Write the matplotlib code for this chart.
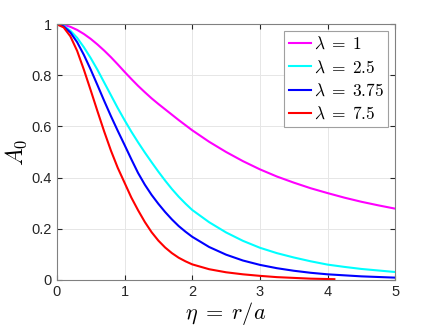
import matplotlib
matplotlib.use("Agg")
import matplotlib.pyplot as plt

plt.rcParams['font.family'] = ['Liberation Sans', 'DejaVu Sans']
plt.rcParams['mathtext.fontset'] = 'cm'

# Data
x_mag = [0, 0.1, 0.2, 0.3, 0.4, 0.5, 0.6, 0.7, 0.8, 0.9, 1.0, 1.1, 1.2, 1.3, 1.4, 1.5, 1.6, 1.8, 2.0, 2.25, 2.5, 2.75, 3.0, 3.25, 3.5, 3.75, 4.0, 4.25, 4.5, 4.75, 5.0]
y_mag = [1.0, 0.998, 0.99, 0.978, 0.962, 0.943, 0.921, 0.897, 0.871, 0.843, 0.814, 0.786, 0.759, 0.734, 0.71, 0.688, 0.667, 0.625, 0.585, 0.54, 0.50, 0.464, 0.432, 0.404, 0.38, 0.358, 0.339, 0.321, 0.305, 0.291, 0.278]

x_cyan = [0, 0.1, 0.2, 0.3, 0.4, 0.5, 0.6, 0.7, 0.8, 0.9, 1.0, 1.1, 1.2, 1.3, 1.4, 1.5, 1.6, 1.7, 1.8, 1.9, 2.0, 2.25, 2.5, 2.75, 3.0, 3.25, 3.5, 3.75, 4.0, 4.25, 4.5, 4.75, 5.0]
y_cyan = [1.0, 0.994, 0.975, 0.947, 0.91, 0.868, 0.822, 0.772, 0.722, 0.672, 0.625, 0.58, 0.538, 0.498, 0.46, 0.423, 0.388, 0.355, 0.325, 0.298, 0.273, 0.225, 0.185, 0.152, 0.125, 0.104, 0.087, 0.072, 0.059, 0.05, 0.042, 0.036, 0.03]

x_blue = [0, 0.1, 0.2, 0.3, 0.4, 0.5, 0.6, 0.7, 0.8, 0.9, 1.0, 1.1, 1.2, 1.3, 1.4, 1.5, 1.6, 1.7, 1.8, 1.9, 2.0, 2.25, 2.5, 2.75, 3.0, 3.25, 3.5, 3.75, 4.0, 4.5, 5.0]
y_blue = [1.0, 0.992, 0.968, 0.93, 0.88, 0.823, 0.762, 0.70, 0.64, 0.583, 0.528, 0.472, 0.418, 0.372, 0.332, 0.297, 0.265, 0.236, 0.21, 0.188, 0.168, 0.128, 0.098, 0.075, 0.058, 0.045, 0.035, 0.027, 0.021, 0.013, 0.008]

x_red = [0, 0.1, 0.2, 0.3, 0.4, 0.5, 0.6, 0.7, 0.8, 0.9, 1.0, 1.1, 1.2, 1.3, 1.4, 1.5, 1.6, 1.7, 1.8, 1.9, 2.0, 2.25, 2.5, 2.75, 3.0, 3.25, 3.5, 3.75, 4.1]
y_red = [1.0, 0.988, 0.953, 0.896, 0.822, 0.742, 0.66, 0.58, 0.505, 0.438, 0.38, 0.322, 0.272, 0.226, 0.186, 0.153, 0.126, 0.104, 0.086, 0.072, 0.06, 0.041, 0.029, 0.021, 0.015, 0.01, 0.007, 0.004, 0.002]

labels = [r'$\lambda\;=\;1$', r'$\lambda\;=\;2.5$', r'$\lambda\;=\;3.75$', r'$\lambda\;=\;7.5$']
colors = ['#ff00ff', '#00ffff', '#0000ff', '#ff0000']

xticks = [0, 1, 2, 3, 4, 5]
yticks = [0, 0.2, 0.4, 0.6, 0.8, 1]
yticklabels = ['0', '0.2', '0.4', '0.6', '0.8', '1']

fig = plt.figure(figsize=(4.37, 3.28), dpi=100)
ax = fig.add_axes([0.130, 0.1473, 0.9046 - 0.130, 0.926 - 0.1473])

series = [(x_mag, y_mag), (x_cyan, y_cyan), (x_blue, y_blue), (x_red, y_red)]
for (xs, ys), lab, c in zip(series, labels, colors):
    ax.plot(xs, ys, color=c, lw=1.5, label=lab)

ax.set_xlim(0, 5)
ax.set_ylim(0, 1)
ax.set_xticks(xticks)
ax.set_yticks(yticks)
ax.set_yticklabels(yticklabels)
ax.grid(True, color='#e6e6e6', lw=0.7)
ax.set_axisbelow(True)
ax.tick_params(direction='in', top=True, right=True, length=3.5, width=0.8,
               colors='#262626', labelsize=10.5, labelcolor='#262626')
for s in ax.spines.values():
    s.set_color('#808080')
    s.set_linewidth(0.8)

ax.set_xlabel(r'$\eta\;=\;r/a$', fontsize=16, labelpad=1)
ax.set_ylabel(r'$A_0$', fontsize=17, labelpad=2)

leg = ax.legend(loc='upper right', fontsize=12.5, handlelength=1.3, handletextpad=0.15,
                labelspacing=0.4, borderpad=0.25, borderaxespad=0.4,
                fancybox=False, framealpha=1)
leg.get_frame().set_edgecolor('#a0a0a0')
leg.get_frame().set_linewidth(0.8)

fig.savefig('out.png', dpi=100)
